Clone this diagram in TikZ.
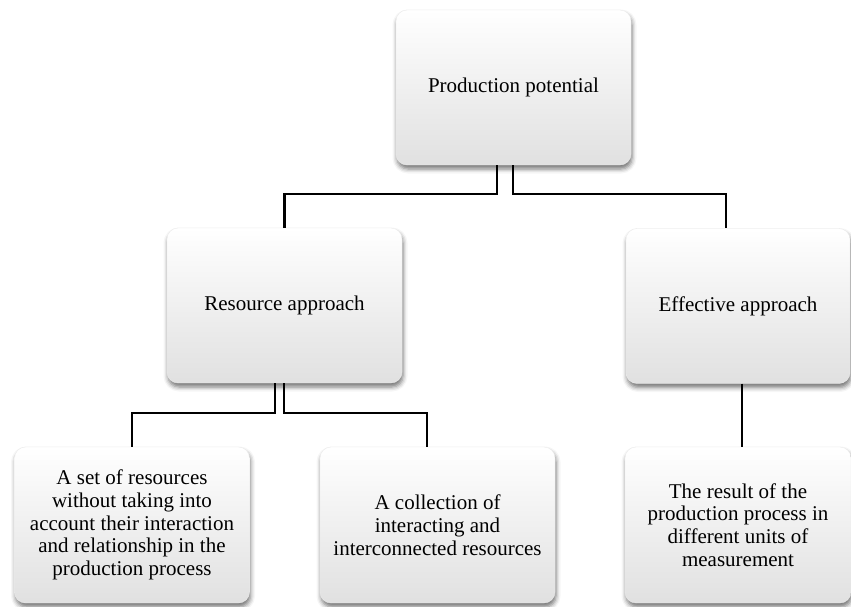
\documentclass[tikz,border=0pt]{standalone}
\usepackage{fontspec}
\setmainfont{Liberation Serif}
\usetikzlibrary{shadows.blur}
\begin{document}
\begin{tikzpicture}[x=1pt,y=-1pt,
  box/.style={rectangle, rounded corners=11pt, draw=black!8, line width=0.4pt,
    top color=white, middle color=white, bottom color=black!12,
    blur shadow={shadow xshift=1pt, shadow yshift=-4pt, shadow blur radius=4.5pt, shadow opacity=55},
    minimum width=235pt, minimum height=155pt, align=center, inner sep=4pt,
    font=\fontsize{21}{22.8}\selectfont},
  link/.style={draw=black, line width=2.4pt}]
\useasboundingbox (0,0) rectangle (851,606);
\node[box] (root) at (513.5,87.5) {Production potential};
\node[box] (res) at (284.5,305.5) {Resource approach};
\node[box, minimum width=224pt] (eff) at (738,306) {Effective approach};
\node[box, minimum height=156pt] (b1) at (132,525) {A set of resources\\without taking into\\account their interaction\\and relationship in the\\production process};
\node[box, minimum height=156pt] (b2) at (437.5,525) {A collection of\\interacting and\\interconnected resources};
\node[box, minimum width=226pt, minimum height=156pt] (b3) at (738,525) {The result of the\\production process in\\different units of\\measurement};
\draw[link] ([xshift=-16.5pt]root.south) -- ++(0,29) -| (res.north);
\draw[link] ([xshift=-0.5pt]root.south) -- ++(0,29) -| ([xshift=-12pt]eff.north);
\draw[link] ([xshift=-9.5pt]res.south) -- ++(0,30) -| (b1.north);
\draw[link] ([xshift=-0.5pt]res.south) -- ++(0,30) -| ([xshift=-10.5pt]b2.north);
\draw[link] ([xshift=4pt]eff.south) -- ([xshift=4pt]b3.north);
\end{tikzpicture}
\end{document}
